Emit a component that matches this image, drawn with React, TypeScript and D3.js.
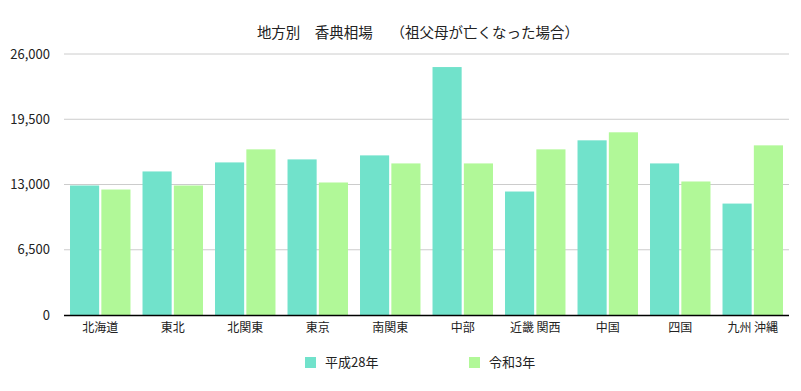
import * as React from "react"
import * as d3 from "d3"

const WIDTH = 801
const HEIGHT = 391
const MARGIN = { top: 54, right: 12, bottom: 76, left: 64 }

const TITLE = "地方別　香典相場　 （祖父母が亡くなった場合）"
const regions = ["北海道", "東北", "北関東", "東京", "南関東", "中部", "近畿 関西", "中国", "四国", "九州 沖縄"]
const seriesNames = ["平成28年", "令和3年"]
const heisei28 = [12900, 14300, 15200, 15500, 15900, 24700, 12300, 17400, 15100, 11100]
const reiwa3 = [12500, 12900, 16500, 13200, 15100, 15100, 16500, 18200, 13300, 16900]
const yTicks = [0, 6500, 13000, 19500, 26000]
const colors = ["#71e2cb", "#b1f898"]

const FONT = "'Noto Sans CJK JP', 'Noto Sans', sans-serif"

export default function App() {
  const innerW = WIDTH - MARGIN.left - MARGIN.right
  const innerH = HEIGHT - MARGIN.top - MARGIN.bottom

  const x0 = d3.scaleBand().domain(regions).range([0, innerW]).paddingInner(0.166).paddingOuter(0.083)
  const x1 = d3.scaleBand().domain(seriesNames).range([0, x0.bandwidth()]).paddingInner(0.07)
  const y = d3.scaleLinear().domain([0, 26000]).range([innerH, 0])
  const fmt = d3.format(",")

  const series = [heisei28, reiwa3]

  return (
    <svg
      width={WIDTH}
      height={HEIGHT}
      style={{ position: "absolute", left: 0, top: 0, background: "#fff", fontFamily: FONT }}
    >
      <text x={418} y={38} textAnchor="middle" fontSize={14.5} fill="#222">
        {TITLE}
      </text>
      <g transform={`translate(${MARGIN.left},${MARGIN.top})`}>
        {yTicks.map(t => (
          <g key={t}>
            {t > 0 && <line x1={0} x2={innerW} y1={y(t)} y2={y(t)} stroke="#cccccc" strokeWidth={1} />}
            <text x={-14} y={y(t)} dy="0.35em" textAnchor="end" fontSize={13} fill="#222">
              {fmt(t)}
            </text>
          </g>
        ))}
        {regions.map((r, i) => (
          <g key={r} transform={`translate(${x0(r)},0)`}>
            {seriesNames.map((s, j) => (
              <rect
                key={s}
                x={x1(s)}
                y={y(series[j][i])}
                width={x1.bandwidth()}
                height={innerH - y(series[j][i])}
                fill={colors[j]}
              />
            ))}
            <text x={x0.bandwidth() / 2} y={innerH + 17} textAnchor="middle" fontSize={12} fill="#222">
              {r}
            </text>
          </g>
        ))}
        <line x1={0} x2={innerW} y1={innerH + 0.5} y2={innerH + 0.5} stroke="#000" strokeWidth={1.5} />
      </g>
      {seriesNames.map((s, j) => (
        <g key={s} transform={`translate(${305 + j * 164},357)`}>
          <rect width={11} height={11} fill={colors[j]} />
          <text x={20} y={5.5} dy="0.35em" fontSize={13} fill="#222">
            {s}
          </text>
        </g>
      ))}
    </svg>
  )
}
